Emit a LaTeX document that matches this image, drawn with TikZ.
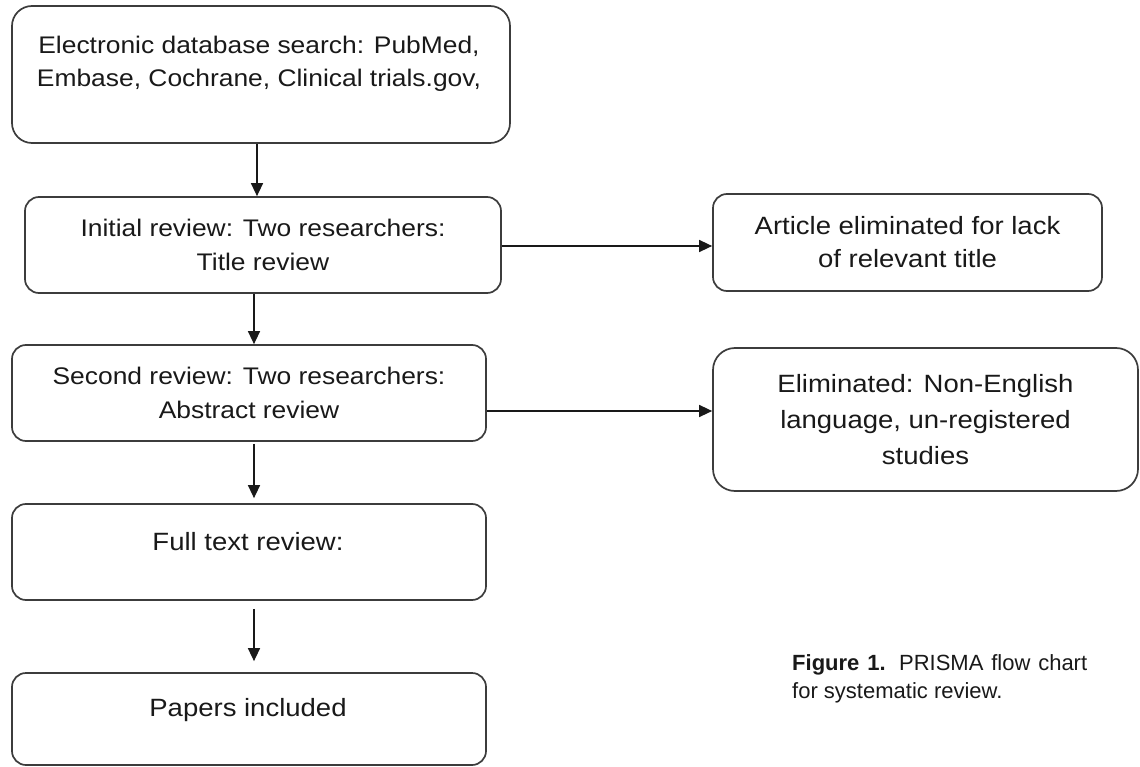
\documentclass[tikz,border=0pt]{standalone}
\usepackage{fontspec}
\setmainfont{Liberation Sans}[FakeStretch=1.1]
\newfontfamily\capfont{Liberation Sans}
\usetikzlibrary{arrows.meta}
\definecolor{edge}{RGB}{60,60,60}
\definecolor{ink}{RGB}{25,25,25}
\tikzset{
  box/.style={draw=edge, line width=1.7pt, rounded corners=14pt, inner sep=0pt, align=center, text=ink},
  txt/.style={inner sep=0pt, align=center, text=ink},
  arr/.style={draw=ink, line width=1.4pt, -{Triangle[length=13pt,width=12pt]}},
}
\begin{document}
\begin{tikzpicture}[x=1pt,y=-1pt]
\useasboundingbox (0,0) rectangle (1140,767);
% left column
\node[box, minimum width=498pt, minimum height=137pt, rounded corners=20pt] (b1) at (261,74.5) {};
\node[txt, font=\fontsize{24}{33}\selectfont] (t1) at (259,63.5) {Electronic database search: PubMed,\\Embase, Cochrane, Clinical trials.gov,};
\node[box, minimum width=476pt, minimum height=96pt, font=\fontsize{24}{34}\selectfont] (b2) at (263,245) {Initial review: Two researchers:\\Title review};
\node[box, minimum width=474pt, minimum height=96pt, font=\fontsize{24}{34}\selectfont] (b4) at (249,393) {Second review: Two researchers:\\Abstract review};
\node[box, minimum width=474pt, minimum height=96pt] (b6) at (249,552) {};
\node[txt, font=\fontsize{25}{34}\selectfont] (t6) at (248,542) {Full text review:};
\node[box, minimum width=474pt, minimum height=92pt] (b7) at (249,719) {};
\node[txt, font=\fontsize{25}{34}\selectfont] (t7) at (248,710) {Papers included};
% right column
\node[box, minimum width=389pt, minimum height=97pt, font=\fontsize{25}{33}\selectfont] (b3) at (907.5,242.5) {Article eliminated for lack\\of relevant title};
\node[box, minimum width=425pt, minimum height=143pt, rounded corners=22pt, font=\fontsize{25}{36}\selectfont] (b5) at (925.5,419.5) {Eliminated: Non-English\\language, un-registered\\studies};
% caption
\node[txt, anchor=west, align=left, font=\capfont\fontsize{22}{28}\selectfont, text=ink] (cap) at (792,679)
  {\makebox[295pt][s]{\textbf{Figure 1.} PRISMA flow chart}\\for systematic review.};
% connector guides
\coordinate (xa) at (257,0);
\coordinate (xb) at (254,0);
\coordinate (ya) at (0,246);
\coordinate (yb) at (0,411);
% connectors
\draw[arr] (b1.south -| xa) -- (b2.north -| xa);
\draw[arr] (b2.south -| xb) -- (b4.north -| xb);
\draw[arr, shorten <=2pt, shorten >=5pt] (b4.south -| xb) -- (b6.north -| xb);
\draw[arr, shorten <=8pt, shorten >=11pt] (b6.south -| xb) -- (b7.north -| xb);
\draw[arr] (b2.east |- ya) -- (b3.west |- ya);
\draw[arr] (b4.east |- yb) -- (b5.west |- yb);
\end{tikzpicture}
\end{document}
